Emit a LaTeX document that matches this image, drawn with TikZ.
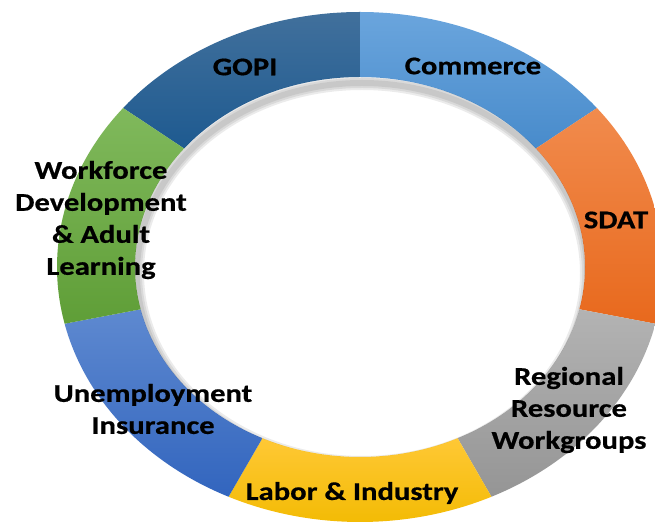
\documentclass[tikz,border=0pt]{standalone}
\usepackage{fontspec}
\setmainfont{Carlito}
\newfontfamily\lblfont[FakeStretch=1.2,BoldFeatures={FakeBold=0.6}]{Carlito}
\definecolor{gopiA}{HTML}{41709C}
\definecolor{gopiB}{HTML}{1E5A90}
\definecolor{commA}{HTML}{6AA5DD}
\definecolor{commB}{HTML}{488BCB}
\definecolor{sdatA}{HTML}{F18B4D}
\definecolor{sdatB}{HTML}{E8691D}
\definecolor{rrwA}{HTML}{B3B3B3}
\definecolor{rrwB}{HTML}{959595}
\definecolor{labA}{HTML}{FFC835}
\definecolor{labB}{HTML}{F2BA00}
\definecolor{uiA}{HTML}{5E89D0}
\definecolor{uiB}{HTML}{3265BE}
\definecolor{wfdA}{HTML}{80B95C}
\definecolor{wfdB}{HTML}{5F9E37}
\begin{document}
\begin{tikzpicture}[>=latex,line join=bevel,
  ringseg/.style 2 args={insert path={(#1:303bp and 255bp) arc[start angle=#1,end angle=#2,x radius=303bp,y radius=255bp]
    -- (#2:225bp and 190bp) arc[start angle=#2,end angle=#1,x radius=225bp,y radius=190bp] -- cycle}},
  holeshadow/.style={draw=black,draw opacity=0.08},
  lbl/.style={align=center,text=black,inner sep=0pt,font=\lblfont\bfseries\fontsize{25.5bp}{32bp}\selectfont}]
\useasboundingbox (0bp,0bp) rectangle (655bp,523bp);
\clip (0bp,0bp) rectangle (655bp,523bp);
%%
\begin{scope}[shift={(360bp,256bp)}]
  \shade [top color=gopiA,bottom color=gopiB,ringseg={90}{141.43}];
  \shade [top color=commA,bottom color=commB,ringseg={38.57}{90}];
  \shade [top color=sdatA,bottom color=sdatB,ringseg={-12.86}{38.57}];
  \shade [top color=rrwA,bottom color=rrwB,ringseg={-64.29}{-12.86}];
  \shade [top color=labA,bottom color=labB,ringseg={-115.71}{-64.29}];
  \shade [top color=uiA,bottom color=uiB,ringseg={-167.14}{-115.71}];
  \shade [top color=wfdA,bottom color=wfdB,ringseg={141.43}{192.86}];
  % soft shadow inside the hole
  \begin{scope}
    \clip (0,0) ellipse [x radius=225bp,y radius=190bp];
    \draw [holeshadow,line width=14bp] (2bp,-6bp) ellipse [x radius=225bp,y radius=190bp];
    \draw [holeshadow,line width=10bp] (2bp,-6bp) ellipse [x radius=225bp,y radius=190bp];
    \draw [holeshadow,line width=6bp] (2bp,-6bp) ellipse [x radius=225bp,y radius=190bp];
  \end{scope}
\end{scope}
%%
\node (node_0) at (245bp,456bp) [lbl] {GOPI};
  \node (node_1) at (473bp,457bp) [lbl] {Commerce};
  \node (node_2) at (616bp,303bp) [lbl] {SDAT};
  \node (node_3) at (569bp,113bp) [lbl] {Regional\\Resource\\Workgroups};
  \node (node_4) at (352bp,30bp) [lbl] {Labor \& Industry};
  \node (node_5) at (153bp,114bp) [lbl] {Unemployment\\Insurance};
  \node (node_6) at (101bp,303bp) [lbl] {Workforce\\Development\\\& Adult\\Learning};
%
\end{tikzpicture}
\end{document}
